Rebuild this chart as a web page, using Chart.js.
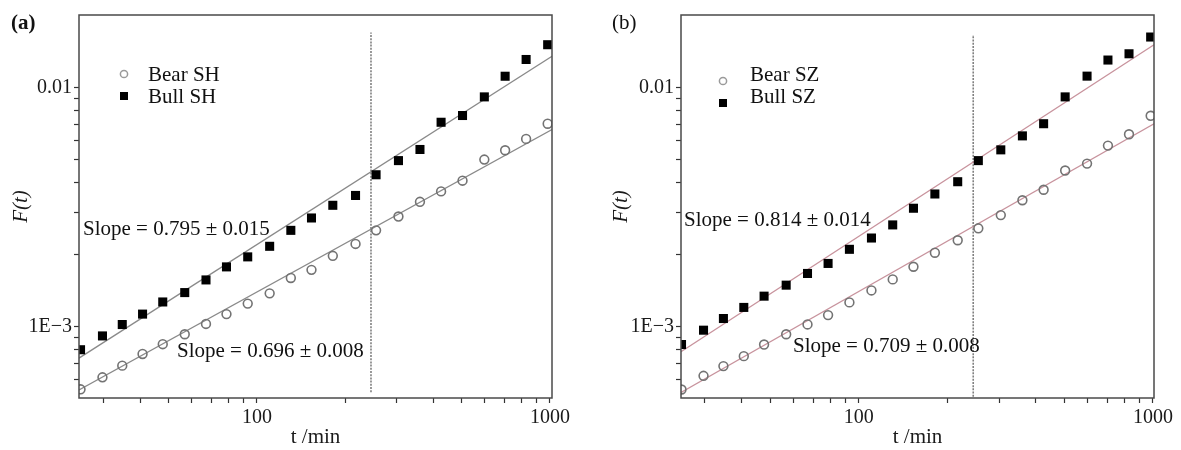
<!DOCTYPE html>
<html><head><meta charset="utf-8">
<script src="https://cdn.jsdelivr.net/npm/chart.js@4"></script>
<style>
html,body{margin:0;padding:0;background:#fff;}
#wrap{position:relative;width:1181px;height:450px;background:#fff;}
.c{position:absolute;top:0;height:450px;}
</style></head><body>
<div id="wrap">
<div class="c" style="left:0;width:590px"><canvas id="ca"></canvas></div>
<div class="c" style="left:600px;width:581px"><canvas id="cb"></canvas></div>
</div>
<script>
// ---- data (t in minutes, F(t)) ----
const tValues = [25, 29.7, 34.7, 40.7, 47.7, 56.7, 67, 78.7, 93, 110.5, 130.5, 153.5, 181.5, 217, 255, 304, 360, 425, 503, 597, 703, 829, 982];

const bearSH = [5.48e-4, 6.15e-4, 6.88e-4, 7.70e-4, 8.46e-4, 9.31e-4, 1.028e-3, 1.13e-3, 1.25e-3, 1.38e-3, 1.60e-3, 1.73e-3, 1.98e-3, 2.22e-3, 2.53e-3, 2.89e-3, 3.33e-3, 3.68e-3, 4.08e-3, 5.00e-3, 5.47e-3, 6.10e-3, 7.06e-3];
const bullSH = [8.02e-4, 9.16e-4, 1.022e-3, 1.13e-3, 1.27e-3, 1.39e-3, 1.57e-3, 1.78e-3, 1.96e-3, 2.17e-3, 2.53e-3, 2.85e-3, 3.22e-3, 3.54e-3, 4.32e-3, 4.95e-3, 5.51e-3, 7.16e-3, 7.64e-3, 9.14e-3, 0.01115, 0.0131, 0.0151];
const bearSZ = [5.47e-4, 6.24e-4, 6.85e-4, 7.54e-4, 8.43e-4, 9.31e-4, 1.023e-3, 1.119e-3, 1.265e-3, 1.419e-3, 1.578e-3, 1.782e-3, 2.04e-3, 2.30e-3, 2.58e-3, 2.93e-3, 3.38e-3, 3.74e-3, 4.50e-3, 4.81e-3, 5.72e-3, 6.38e-3, 7.62e-3];
const bullSZ = [8.43e-4, 9.68e-4, 1.083e-3, 1.205e-3, 1.343e-3, 1.493e-3, 1.671e-3, 1.840e-3, 2.108e-3, 2.350e-3, 2.666e-3, 3.13e-3, 3.59e-3, 4.04e-3, 4.95e-3, 5.49e-3, 6.28e-3, 7.06e-3, 9.14e-3, 0.01116, 0.01303, 0.01384, 0.01626];

// fitted lines: F at the left and right ends of the t range
const fitBearSH = [5.45e-4, 6.67e-3];
const fitBullSH = [7.40e-4, 0.01352];
const fitBearSZ = [5.32e-4, 7.05e-3];
const fitBullSZ = [7.87e-4, 0.01510];

const tRangeA = [24.7, 1016];
const tRangeB = [24.9, 1008];
const fRange = [5.04e-4, 0.0201];

// vertical divider
const dividerT = 245;
const dividerSpanA = [5.33e-4, 0.0170];
const dividerSpanB = [5.1e-4, 0.0166];

// ticks
const xTickValues = [30, 40, 50, 60, 70, 80, 90, 100, 200, 300, 400, 500, 600, 700, 800, 900, 1000];
const xMajorValues = [100, 1000];
const xMajorLabels = ['100', '1000'];
const yTickValues = [6e-4, 7e-4, 8e-4, 9e-4, 1e-3, 2e-3, 3e-3, 4e-3, 5e-3, 6e-3, 7e-3, 8e-3, 9e-3, 0.01];
const yMajorValues = [1e-3, 0.01];
const yMajorLabels = ['1E\u22123', '0.01'];

const slopeTextsA = ['Slope = 0.795 \u00b1 0.015', 'Slope = 0.696 \u00b1 0.008'];
const slopeTextsB = ['Slope = 0.814 \u00b1 0.014', 'Slope = 0.709 \u00b1 0.008'];

const SERIF = '"Liberation Serif", "Times New Roman", serif';

const decor = {
  id: 'decor',
  afterDraw(chart, args, o) {
    const {ctx, chartArea: a} = chart;
    ctx.save();
    ctx.strokeStyle = '#4a4a4a';
    ctx.lineWidth = 1.5;
    ctx.strokeRect(a.left, a.top, a.right - a.left, a.bottom - a.top);
    ctx.fillStyle = '#111';
    ctx.textBaseline = 'alphabetic';
    ctx.textAlign = 'left';
    ctx.font = (o.panelBold ? 'bold ' : '') + '21px ' + SERIF;
    ctx.fillText(o.panel, o.panelPos[0], o.panelPos[1]);
    // legend
    ctx.font = '21px ' + SERIF;
    o.legend.forEach((it, i) => {
      const ds = chart.data.datasets[i];
      const mx = a.left + o.legendMarkerX, my = o.legendMarkerY[i];
      ctx.beginPath();
      if (ds.pointStyle === 'rect') {
        ctx.fillStyle = ds.backgroundColor;
        ctx.fillRect(mx - 4, my - 4, 8, 8);
      } else {
        ctx.strokeStyle = '#9a9a9a';
        ctx.lineWidth = 1.5;
        ctx.arc(mx, my, 3.6, 0, Math.PI * 2);
        ctx.stroke();
      }
      ctx.fillStyle = '#111';
      ctx.fillText(ds.label, a.left + o.legendTextX, o.legendTextY[i]);
    });
    // slope annotations
    o.slopes.forEach((s, i) => {
      ctx.fillText(s, a.left + o.slopePos[i][0], o.slopePos[i][1]);
    });
    ctx.restore();
  }
};

function makeChart(id, cfg) {
  const pts = arr => tValues.map((t, i) => ({x: t, y: arr[i]}));
  const datasets = [
    {label: cfg.names[0], data: pts(cfg.bear), pointStyle: 'circle', pointRadius: 4.4,
     borderColor: '#737373', backgroundColor: 'rgba(255,255,255,0)', pointBorderWidth: 1.6,
     showLine: false, clip: 0},
    {label: cfg.names[1], data: pts(cfg.bull), pointStyle: 'rect', pointRadius: 6.4,
     borderColor: '#000', backgroundColor: '#000', pointBorderWidth: 0,
     showLine: false, clip: 0},
    {label: 'fit bear', data: [{x: cfg.tRange[0], y: cfg.fitBear[0]}, {x: cfg.tRange[1], y: cfg.fitBear[1]}],
     showLine: true, pointRadius: 0, borderColor: cfg.fitColor, borderWidth: 1.3, clip: 0},
    {label: 'fit bull', data: [{x: cfg.tRange[0], y: cfg.fitBull[0]}, {x: cfg.tRange[1], y: cfg.fitBull[1]}],
     showLine: true, pointRadius: 0, borderColor: cfg.fitColor, borderWidth: 1.3, clip: 0},
    {label: 'divider', data: [{x: dividerT, y: cfg.divSpan[0]}, {x: dividerT, y: cfg.divSpan[1]}],
     showLine: true, pointRadius: 0, borderColor: '#808080', borderWidth: 1.6, borderDash: [2, 1.2], clip: 0}
  ];
  const tickFont = {family: SERIF, size: 20};
  return new Chart(document.getElementById(id), {
    type: 'scatter',
    data: {datasets},
    plugins: [decor],
    options: {
      responsive: true, maintainAspectRatio: false, animation: false,
      layout: {padding: {left: 0, top: 15, right: cfg.padRight, bottom: 0}},
      plugins: {
        legend: {display: false}, tooltip: {enabled: false},
        decor: cfg.decor
      },
      scales: {
        x: {
          type: 'logarithmic', min: cfg.tRange[0], max: cfg.tRange[1], bounds: 'data',
          border: {display: false},
          grid: {drawOnChartArea: false, drawTicks: true, tickLength: 5, tickColor: '#333', tickWidth: 1.2},
          afterBuildTicks: s => { s.ticks = xTickValues.map(v => ({value: v})); },
          afterFit: s => { s.height = 52; },
          ticks: {autoSkip: false, maxRotation: 0, color: '#1a1a1a', font: tickFont, padding: 3,
            callback: v => { const i = xMajorValues.indexOf(v); return i >= 0 ? xMajorLabels[i] : ''; }},
          title: {display: true, text: 't /min', color: '#1a1a1a', font: {family: SERIF, size: 21}, padding: {top: 0, bottom: 0}}
        },
        y: {
          type: 'logarithmic', min: fRange[0], max: fRange[1], bounds: 'data',
          border: {display: false},
          grid: {drawOnChartArea: false, drawTicks: true, tickLength: 5, tickColor: '#333', tickWidth: 1.2},
          afterBuildTicks: s => { s.ticks = yTickValues.map(v => ({value: v})); },
          afterFit: s => { s.width = cfg.yWidth; },
          ticks: {autoSkip: false, color: '#1a1a1a', font: tickFont, padding: 2,
            callback: v => { const i = yMajorValues.indexOf(v); return i >= 0 ? yMajorLabels[i] : ''; }},
          title: {display: true, text: 'F(t)', color: '#1a1a1a', font: {family: SERIF, size: 21, style: 'italic'}, padding: {top: 9, bottom: 0}}
        }
      }
    }
  });
}

makeChart('ca', {
  names: ['Bear SH', 'Bull SH'], bear: bearSH, bull: bullSH,
  fitBear: fitBearSH, fitBull: fitBullSH, fitColor: '#8a8a8a',
  tRange: tRangeA, divSpan: dividerSpanA, padRight: 38, yWidth: 79,
  decor: {panel: '(a)', panelBold: true, panelPos: [11, 29],
    legend: [0, 1], legendMarkerX: 45, legendMarkerY: [74, 96], legendTextX: 69, legendTextY: [81, 103],
    slopes: slopeTextsA, slopePos: [[4, 235], [98, 357]]}
});
makeChart('cb', {
  names: ['Bear SZ', 'Bull SZ'], bear: bearSZ, bull: bullSZ,
  fitBear: fitBearSZ, fitBull: fitBullSZ, fitColor: '#c8939d',
  tRange: tRangeB, divSpan: dividerSpanB, padRight: 27, yWidth: 81,
  decor: {panel: '(b)', panelBold: false, panelPos: [12, 29],
    legend: [0, 1], legendMarkerX: 42, legendMarkerY: [81, 103], legendTextX: 69, legendTextY: [81, 103],
    slopes: slopeTextsB, slopePos: [[3, 226], [112, 352]]}
});
</script>
</body></html>
